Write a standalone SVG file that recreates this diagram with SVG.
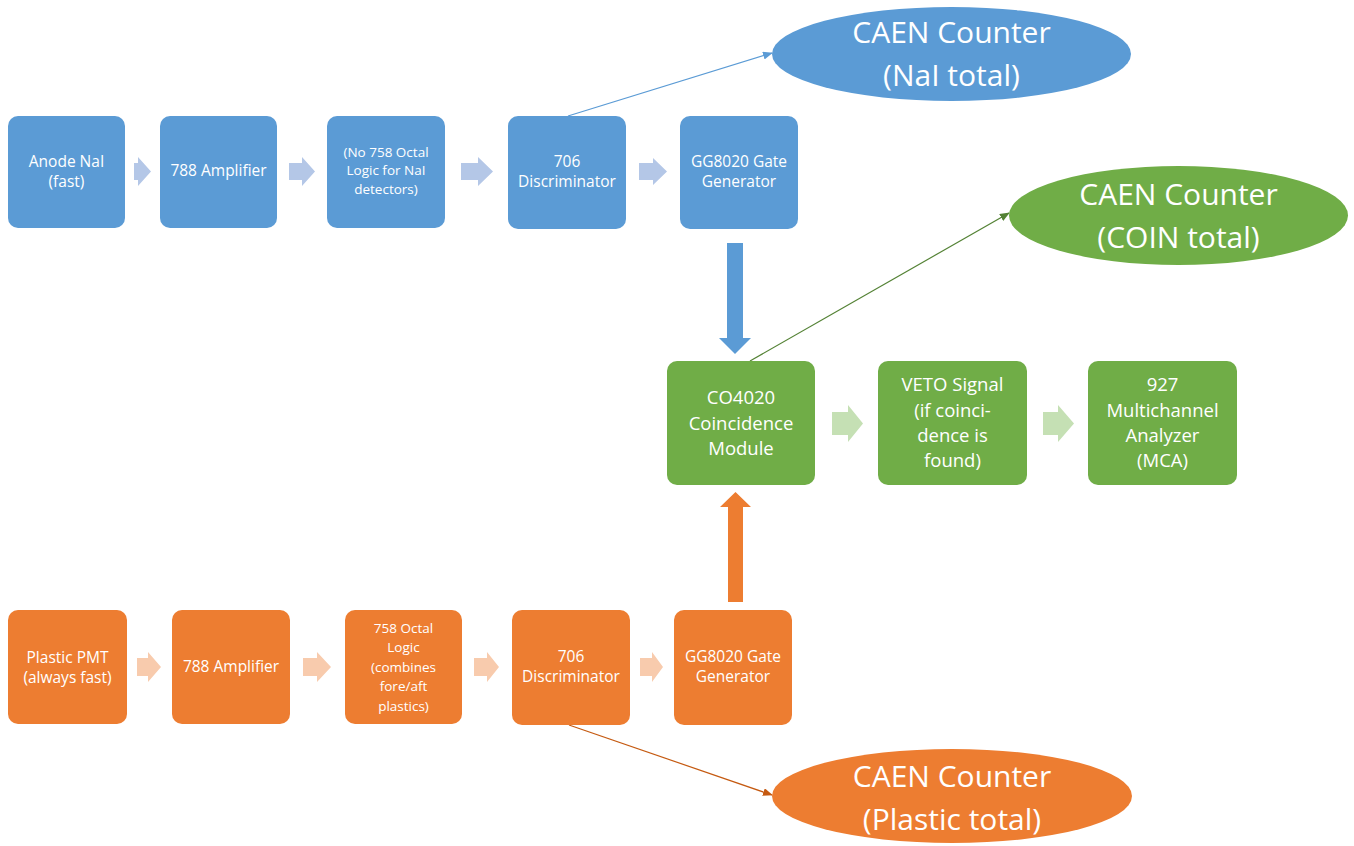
<svg xmlns="http://www.w3.org/2000/svg" width="1354" height="846" viewBox="0 0 1354 846">
<defs>
<style>
.bb{fill:#5B9BD5}
.gb{fill:#70AD47}
.ob{fill:#ED7D31}
.bc{fill:#B4C7E7}
.gc{fill:#C5E0B4}
.oc{fill:#F8CBAD}
text{font-family:"Open Sans","Liberation Sans",sans-serif;fill:#fff;text-anchor:middle}
.s{font-size:15.5px}
.t{font-size:13.5px}
.m{font-size:18.5px}
.l{font-size:30px}
</style>
<marker id="ab" markerWidth="10" markerHeight="8" refX="9" refY="4" orient="auto" markerUnits="userSpaceOnUse"><path d="M0,0 L10,4 L0,8 Z" fill="#5B9BD5"/></marker>
<marker id="ag" markerWidth="10" markerHeight="8" refX="9" refY="4" orient="auto" markerUnits="userSpaceOnUse"><path d="M0,0 L10,4 L0,8 Z" fill="#548235"/></marker>
<marker id="ao" markerWidth="10" markerHeight="8" refX="9" refY="4" orient="auto" markerUnits="userSpaceOnUse"><path d="M0,0 L10,4 L0,8 Z" fill="#C55A11"/></marker>
</defs>
<rect width="1354" height="846" fill="#fff"/>
<g id="connectors">
<line x1="568" y1="116" x2="772" y2="53" stroke="#5B9BD5" stroke-width="1.2" marker-end="url(#ab)"/>
<line x1="750" y1="361" x2="1009" y2="213" stroke="#548235" stroke-width="1.2" marker-end="url(#ag)"/>
<line x1="569" y1="725" x2="772" y2="795" stroke="#C55A11" stroke-width="1.2" marker-end="url(#ao)"/>
<path class="bb" d="M727,243 H743 V338 H751 L735,354 L719,338 H727 Z"/>
<path class="ob" d="M728,602 H743 V507 H751 L735.5,492 L720,507 H728 Z"/>
<path class="bc" d="M134,163 H138 V157 L151,171.5 L138,186 V180 H134 Z"/>
<path class="bc" d="M289,163 H302 V157 L315,171.5 L302,186 V180 H289 Z"/>
<path class="bc" d="M461,163 H478 V157 L493,171.5 L478,186 V180 H461 Z"/>
<path class="bc" d="M639,163 H653 V158 L667,171.5 L653,185 V180 H639 Z"/>
<path class="gc" d="M832,412 H848 V405 L863,423.5 L848,442 V435 H832 Z"/>
<path class="gc" d="M1043,412 H1058 V405 L1074,423.5 L1058,442 V435 H1043 Z"/>
<path class="oc" d="M137,658 H148 V652 L161,667 L148,682 V676 H137 Z"/>
<path class="oc" d="M303,658 H317 V652 L331,667 L317,682 V676 H303 Z"/>
<path class="oc" d="M474,658 H487 V652 L499,667 L487,682 V676 H474 Z"/>
<path class="oc" d="M640,658 H652 V652 L663,667 L652,682 V676 H640 Z"/>
</g>
<g id="n_anode"><rect class="bb" x="8" y="116" width="117" height="112" rx="10"/><text class="s"><tspan x="66.5" y="167">Anode NaI</tspan><tspan x="66.5" y="187">(fast)</tspan></text></g>
<g id="n_amp_b"><rect class="bb" x="160" y="116" width="117" height="112" rx="10"/><text class="s" x="218.5" y="176">788 Amplifier</text></g>
<g id="n_nolog"><rect class="bb" x="327" y="116" width="118" height="112" rx="10"/><text class="t"><tspan x="386" y="156.5">(No 758 Octal</tspan><tspan x="386" y="175">Logic for NaI</tspan><tspan x="386" y="193.5">detectors)</tspan></text></g>
<g id="n_disc_b"><rect class="bb" x="508" y="116" width="118" height="113" rx="10"/><text class="s"><tspan x="567" y="167">706</tspan><tspan x="567" y="186.5">Discriminator</tspan></text></g>
<g id="n_gg_b"><rect class="bb" x="680" y="116" width="118" height="113" rx="10"/><text class="s"><tspan x="739" y="167">GG8020 Gate</tspan><tspan x="739" y="186.5">Generator</tspan></text></g>
<g id="n_caen_b"><ellipse class="bb" cx="951.5" cy="54" rx="179.5" ry="47"/><text class="l"><tspan x="951.5" y="43">CAEN Counter</tspan><tspan x="951.5" y="86">(NaI total)</tspan></text></g>
<g id="n_caen_g"><ellipse class="gb" cx="1178.5" cy="215.5" rx="169.5" ry="49.5"/><text class="l"><tspan x="1178.5" y="205">CAEN Counter</tspan><tspan x="1178.5" y="248">(COIN total)</tspan></text></g>
<g id="n_coin"><rect class="gb" x="667" y="361" width="148" height="124" rx="10"/><text class="m"><tspan x="741" y="404">CO4020</tspan><tspan x="741" y="430">Coincidence</tspan><tspan x="741" y="455">Module</tspan></text></g>
<g id="n_veto"><rect class="gb" x="878" y="361" width="149" height="124" rx="10"/><text class="m"><tspan x="952.5" y="391">VETO Signal</tspan><tspan x="952.5" y="417">(if coinci-</tspan><tspan x="952.5" y="442">dence is</tspan><tspan x="952.5" y="467">found)</tspan></text></g>
<g id="n_mca"><rect class="gb" x="1088" y="361" width="149" height="124" rx="10"/><text class="m"><tspan x="1162.5" y="391">927</tspan><tspan x="1162.5" y="417">Multichannel</tspan><tspan x="1162.5" y="442">Analyzer</tspan><tspan x="1162.5" y="467">(MCA)</tspan></text></g>
<g id="n_pmt"><rect class="ob" x="8" y="610" width="119" height="114" rx="10"/><text class="s"><tspan x="67.5" y="663">Plastic PMT</tspan><tspan x="67.5" y="683">(always fast)</tspan></text></g>
<g id="n_amp_o"><rect class="ob" x="172" y="610" width="118" height="114" rx="10"/><text class="s" x="231" y="672">788 Amplifier</text></g>
<g id="n_octal"><rect class="ob" x="345" y="610" width="117" height="114" rx="10"/><text class="t"><tspan x="403.5" y="632.5">758 Octal</tspan><tspan x="403.5" y="652">Logic</tspan><tspan x="403.5" y="671.5">(combines</tspan><tspan x="403.5" y="691">fore/aft</tspan><tspan x="403.5" y="710.5">plastics)</tspan></text></g>
<g id="n_disc_o"><rect class="ob" x="512" y="610" width="118" height="115" rx="10"/><text class="s"><tspan x="571" y="662">706</tspan><tspan x="571" y="682">Discriminator</tspan></text></g>
<g id="n_gg_o"><rect class="ob" x="674" y="610" width="118" height="115" rx="10"/><text class="s"><tspan x="733" y="662">GG8020 Gate</tspan><tspan x="733" y="682">Generator</tspan></text></g>
<g id="n_caen_o"><ellipse class="ob" cx="952" cy="796" rx="180" ry="47"/><text class="l"><tspan x="952" y="787">CAEN Counter</tspan><tspan x="952" y="830">(Plastic total)</tspan></text></g>
</svg>
